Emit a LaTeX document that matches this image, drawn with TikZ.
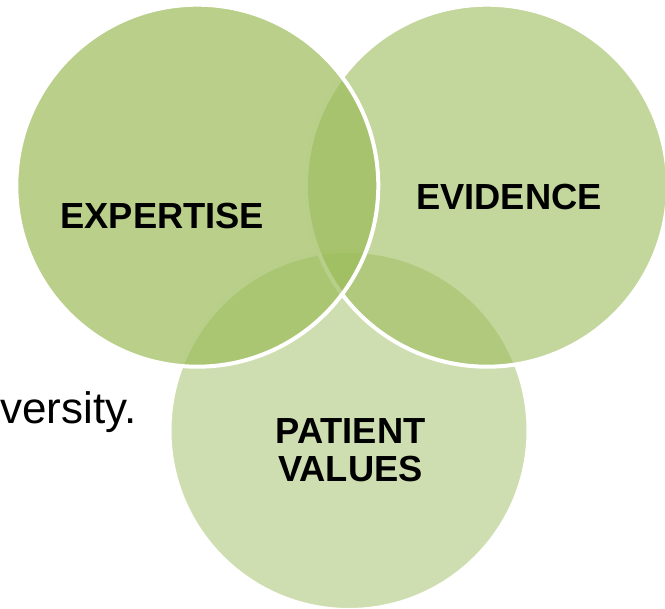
\documentclass[tikz,border=0pt]{standalone}
\usepackage{fontspec}
\setmainfont{Liberation Sans}
\definecolor{venngreen}{HTML}{9BBB59}
\tikzset{
  venn/.style={circle, draw=white, line width=4pt, fill=venngreen, inner sep=0pt, outer sep=0pt, minimum size=362pt},
  lbl/.style={font=\bfseries\fontsize{36.3}{38.4}\selectfont, inner sep=0pt, text=black, align=center},
  bodytext/.style={font=\fontsize{44}{50}\selectfont, inner sep=0pt, text=black}
}
\begin{document}
\begin{tikzpicture}[x=1pt,y=-1pt]
\useasboundingbox (0,0) rectangle (665,609);
\node[bodytext, anchor=base east] (vers) at (136.5,423.5) {versity.};
\node[venn, fill opacity=0.48, minimum size=359pt] (pat) at (349,430.5) {};
\node[venn, fill opacity=0.6] (evi) at (487,185.7) {};
\node[venn, fill opacity=0.7] (exp) at (197.3,185.7) {};
\node[lbl, anchor=base] (expl) at (162.3,228.3) {EXPERTISE};
\node[lbl, anchor=base] (evil) at (509,209.3) {EVIDENCE};
\node[lbl, anchor=base] (patl) at (350.5,481.7) {PATIENT\\VALUES};
\end{tikzpicture}
\end{document}
